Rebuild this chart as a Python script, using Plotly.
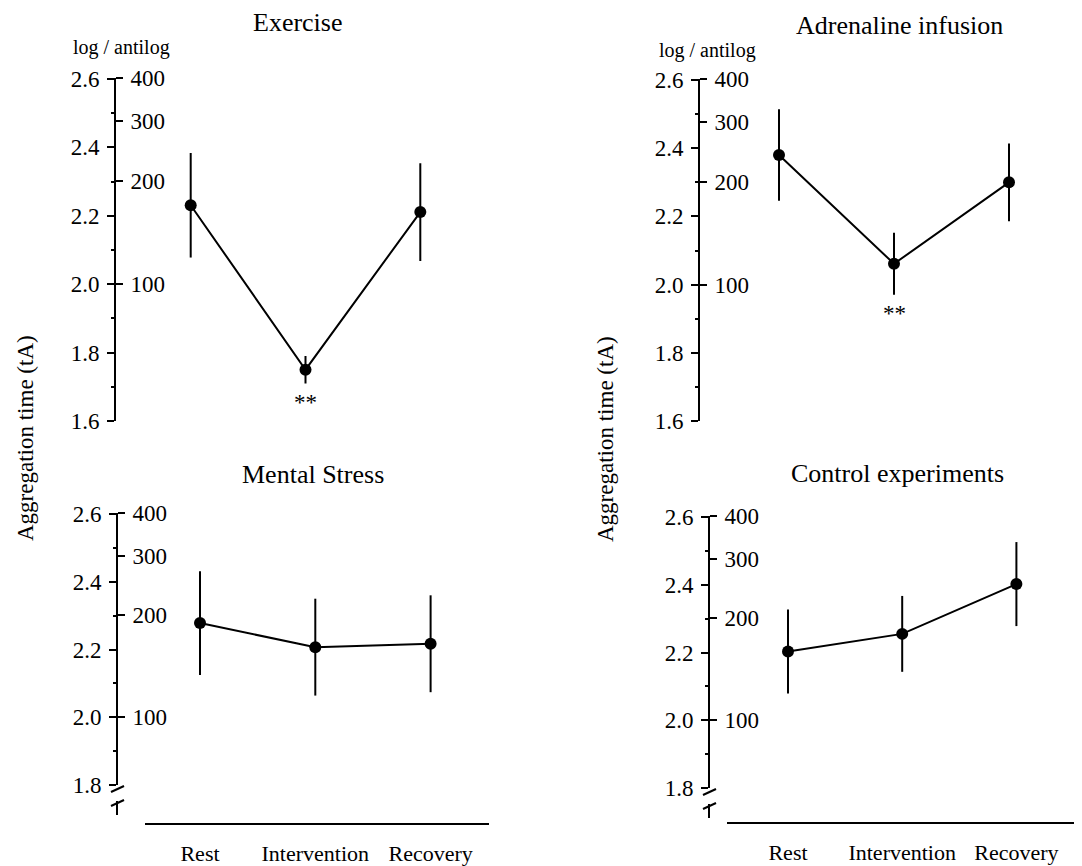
import numpy as np
import plotly.graph_objects as go

W, H = 1082, 866
PAGE_MARGIN = 8          # default body margin of the html page
FW, FH = W - PAGE_MARGIN, H - PAGE_MARGIN
SERIF = "Liberation Serif, Times New Roman, serif"

# ---------------- data (log10 of aggregation time) ----------------
phases = ["Rest", "Intervention", "Recovery"]

exercise_mean = [2.231, 1.750, 2.211]
exercise_err = [0.153, 0.040, 0.143]
adrenaline_mean = [2.380, 2.061, 2.300]
adrenaline_err = [0.134, 0.091, 0.114]
mental_mean = [2.278, 2.207, 2.217]
mental_err = [0.153, 0.143, 0.143]
control_mean = [2.203, 2.255, 2.402]
control_err = [0.124, 0.112, 0.124]

significance_exercise = ["", "**", ""]
significance_adrenaline = ["", "**", ""]
significance_mental = ["", "", ""]
significance_control = ["", "", ""]

log_ticks_top = [1.6, 1.8, 2.0, 2.2, 2.4, 2.6]
log_minor_top = [1.7, 1.9, 2.1, 2.3, 2.5]
log_ticks_bottom = [1.8, 2.0, 2.2, 2.4, 2.6]
log_minor_bottom = [1.9, 2.1, 2.3, 2.5]
antilog_values = [100, 200, 300, 400]

titles = ["Exercise", "Adrenaline infusion", "Mental Stress", "Control experiments"]
y_title = "Aggregation time (tA)"
scale_label = "log / antilog"

Y_MAX = 2.603  # just above log10(400) so the 400 tick is kept


def px(x):
    return min(max((x - PAGE_MARGIN) / FW, 0.0), 1.0)


def py(y):
    return min(max(1 - (y - PAGE_MARGIN) / FH, 0.0), 1.0)


X_RIGHT = W  # right edge of the window

# ---------------- panel geometry (pixels in the 1082x866 window) ----------------
panels = [
    dict(title=titles[0], mean=exercise_mean, err=exercise_err, sig=significance_exercise,
         axis_x=115, y_top=78, y_bot=421, ymin=1.6, ticks=log_ticks_top, minor=log_minor_top,
         x0=190.7, dx=114.8, xline=None, title_xy=(298, 22), scale_xy=(121, 48), brk=False),
    dict(title=titles[1], mean=adrenaline_mean, err=adrenaline_err, sig=significance_adrenaline,
         axis_x=699, y_top=79, y_bot=421, ymin=1.6, ticks=log_ticks_top, minor=log_minor_top,
         x0=779, dx=115.0, xline=None, title_xy=(899, 25), scale_xy=(707, 50), brk=False),
    dict(title=titles[2], mean=mental_mean, err=mental_err, sig=significance_mental,
         axis_x=117, y_top=513, y_bot=785, ymin=1.8, ticks=log_ticks_bottom, minor=log_minor_bottom,
         x0=200, dx=115.3, xline=(145, 489, 824), title_xy=(313, 474), scale_xy=None, brk=True),
    dict(title=titles[3], mean=control_mean, err=control_err, sig=significance_control,
         axis_x=709, y_top=516, y_bot=788, ymin=1.8, ticks=log_ticks_bottom, minor=log_minor_bottom,
         x0=788, dx=114.2, xline=(727, 1082, 823), title_xy=(897, 473), scale_xy=None, brk=True),
]

fig = go.Figure()
layout = dict(
    template="none",
    width=FW, height=FH, margin=dict(l=0, r=0, t=0, b=0, pad=0), autosize=False,
    paper_bgcolor="white", plot_bgcolor="white", showlegend=False,
    font=dict(family=SERIF, color="black"),
)
annotations = []
shapes = []

for k, p in enumerate(panels, start=1):
    xa = f"xaxis{k}" if k > 1 else "xaxis"
    ya_main = 2 * k - 1
    ya_anti = 2 * k
    ya_main_name = f"yaxis{ya_main}" if ya_main > 1 else "yaxis"
    ya_anti_name = f"yaxis{ya_anti}"
    xref = f"x{k}" if k > 1 else "x"
    yref_main = f"y{ya_main}" if ya_main > 1 else "y"
    yref_anti = f"y{ya_anti}"

    xs = list(range(len(phases)))

    # x axis
    if p["xline"] is not None:
        x_start, x_end, x_y = p["xline"]
        show_line = True
    else:
        x_start = p["axis_x"]
        x_end = p["x0"] + 2.6 * p["dx"]
        x_y = p["y_bot"]
        show_line = False
    x_end = min(x_end, X_RIGHT)
    xaxis = dict(
        domain=[px(x_start), px(x_end)],
        range=[(x_start - p["x0"]) / p["dx"], (x_end - p["x0"]) / p["dx"]],
        anchor="free", position=py(x_y), automargin=False,
        showgrid=False, zeroline=False, ticks="",
    )
    if show_line:
        xaxis.update(
            showline=True, linecolor="black", linewidth=2,
            tickvals=xs, ticktext=phases, ticklabelstandoff=10,
            tickfont=dict(family=SERIF, size=22, color="black"),
        )
    else:
        xaxis.update(showline=False, showticklabels=False)
    layout[xa] = xaxis

    # primary (log) y axis
    layout[ya_main_name] = dict(
        domain=[py(p["y_bot"]), py(p["y_top"])],
        range=[p["ymin"], Y_MAX],
        anchor="free", position=px(p["axis_x"]), side="left", automargin=False,
        showline=True, linecolor="black", linewidth=2,
        ticks="outside", ticklen=7, tickwidth=1.6, tickcolor="black",
        tickvals=p["ticks"], ticktext=[f"{v:.1f}" for v in p["ticks"]],
        ticklabelstandoff=3,
        tickfont=dict(family=SERIF, size=23, color="black"),
        minor=dict(tickvals=p["minor"], ticks="outside", ticklen=3, tickwidth=1.6,
                   tickcolor="black", showgrid=False),
        showgrid=False, zeroline=False,
    )
    # secondary (antilog) y axis, same line, ticks to the right
    layout[ya_anti_name] = dict(
        overlaying=yref_main, range=[p["ymin"], Y_MAX],
        anchor="free", position=px(p["axis_x"]), side="right", automargin=False,
        showline=False,
        ticks="outside", ticklen=7, tickwidth=1.6, tickcolor="black",
        tickvals=list(np.log10(antilog_values)), ticktext=[str(v) for v in antilog_values],
        ticklabelstandoff=3,
        tickfont=dict(family=SERIF, size=23, color="black"),
        showgrid=False, zeroline=False,
    )

    # data trace
    fig.add_trace(go.Scatter(
        x=xs, y=p["mean"], mode="lines+markers",
        xaxis=xref, yaxis=yref_main,
        line=dict(color="black", width=2),
        marker=dict(color="black", size=12),
        error_y=dict(type="data", array=p["err"], visible=True, color="black",
                     thickness=2, width=0),
        cliponaxis=False, hoverinfo="x+y",
    ))
    # invisible trace so the antilog axis is drawn
    fig.add_trace(go.Scatter(
        x=xs, y=p["mean"], mode="markers", xaxis=xref, yaxis=yref_anti,
        marker=dict(opacity=0), hoverinfo="skip",
    ))

    # significance marks below the lower error bar
    for i, s in enumerate(p["sig"]):
        if s:
            annotations.append(dict(
                x=xs[i], y=p["mean"][i] - p["err"][i] - 0.055, xref=xref, yref=yref_main,
                text=s, showarrow=False, yanchor="middle",
                font=dict(family=SERIF, size=23, color="black"),
            ))

    # panel title
    tx, ty = p["title_xy"]
    annotations.append(dict(
        x=px(tx), y=py(ty), xref="paper", yref="paper", text=p["title"],
        showarrow=False, xanchor="center", yanchor="middle",
        font=dict(family=SERIF, size=26, color="black"),
    ))
    # "log / antilog" label
    if p["scale_xy"] is not None:
        sx, sy = p["scale_xy"]
        annotations.append(dict(
            x=px(sx), y=py(sy), xref="paper", yref="paper", text=scale_label,
            showarrow=False, xanchor="center", yanchor="middle",
            font=dict(family=SERIF, size=20, color="black"),
        ))

    # axis break symbol below 1.8
    if p["brk"]:
        ax, yb = p["axis_x"], p["y_bot"]
        for dy in (4, 18):
            shapes.append(dict(type="line", xref="paper", yref="paper",
                               x0=px(ax - 6), y0=py(yb + dy + 3), x1=px(ax + 7), y1=py(yb + dy - 3),
                               line=dict(color="black", width=2)))
        shapes.append(dict(type="line", xref="paper", yref="paper",
                           x0=px(ax), y0=py(yb + 16), x1=px(ax), y1=py(yb + 30),
                           line=dict(color="black", width=2)))

# shared y-axis titles
for (tx, ty) in [(25, 438), (605, 439)]:
    annotations.append(dict(
        x=px(tx), y=py(ty), xref="paper", yref="paper", text=y_title,
        showarrow=False, textangle=-90, xanchor="center", yanchor="middle",
        font=dict(family=SERIF, size=23, color="black"),
    ))

layout["annotations"] = annotations
layout["shapes"] = shapes
fig.update_layout(**layout)
fig.write_html("out.html")
